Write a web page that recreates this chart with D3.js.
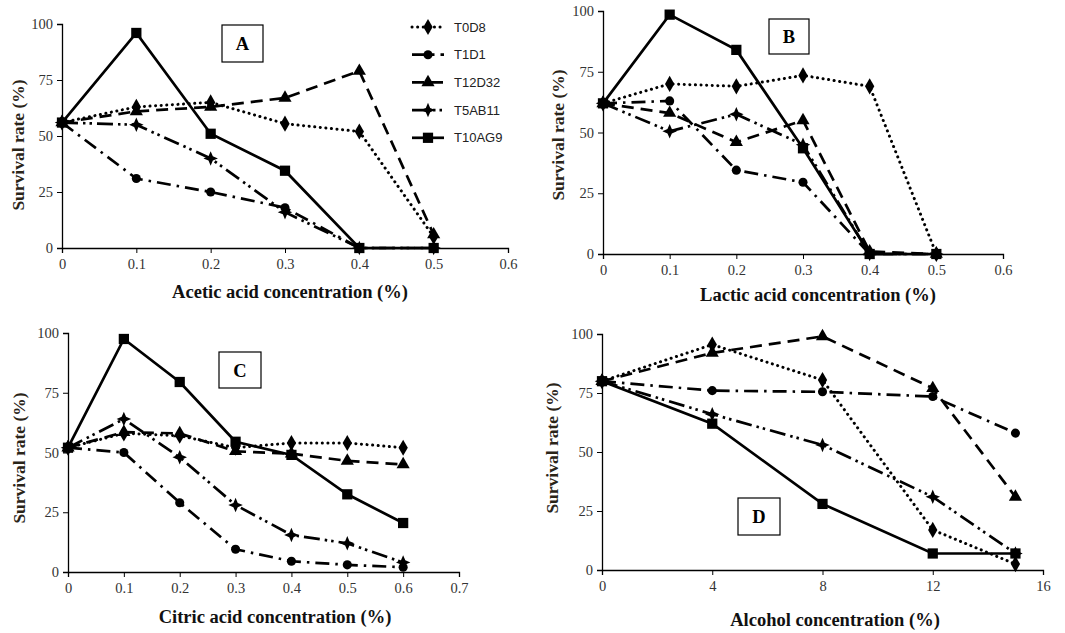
<!DOCTYPE html>
<html><head><meta charset="utf-8">
<script src="https://cdn.jsdelivr.net/npm/d3@7"></script>
<style>
body{margin:0;background:#fff;}
svg{display:block;}
</style></head>
<body>
<svg id="chart" width="1065" height="633"></svg>
<script>
// ---------- DATA ----------
const seriesNames = ["T0D8", "T1D1", "T12D32", "T5AB11", "T10AG9"];
const yTicks = [0, 25, 50, 75, 100];

const aceticX = [0, 0.1, 0.2, 0.3, 0.4, 0.5];
const aceticTicks = [0, 0.1, 0.2, 0.3, 0.4, 0.5, 0.6];
const aceticT0D8   = [56, 63, 65, 55.5, 52, 5];
const aceticT1D1   = [56, 31, 25, 18, 0, 0];
const aceticT12D32 = [56, 61, 63, 67, 79, 6];
const aceticT5AB11 = [56, 55, 40, 16, 0, 0];
const aceticT10AG9 = [56, 96, 51, 34.5, 0, 0];

const lacticX = [0, 0.1, 0.2, 0.3, 0.4, 0.5];
const lacticTicks = [0, 0.1, 0.2, 0.3, 0.4, 0.5, 0.6];
const lacticT0D8   = [62, 70, 69, 73.5, 69, 0];
const lacticT1D1   = [62, 63, 34.5, 29.5, 0, 0];
const lacticT12D32 = [62, 58, 46, 55, 1, 0];
const lacticT5AB11 = [62, 50.5, 57.5, 45, 0, 0];
const lacticT10AG9 = [62, 98.5, 84, 43.5, 0, 0];

const citricX = [0, 0.1, 0.2, 0.3, 0.4, 0.5, 0.6];
const citricTicks = [0, 0.1, 0.2, 0.3, 0.4, 0.5, 0.6, 0.7];
const citricT0D8   = [52, 58, 57, 52, 54, 54, 52];
const citricT1D1   = [52, 50, 29, 9.5, 4.5, 3, 2];
const citricT12D32 = [52, 58.5, 58, 50.5, 49.5, 46.5, 45];
const citricT5AB11 = [52, 64, 48, 28, 15.5, 12, 4];
const citricT10AG9 = [52, 97.5, 79.5, 54.5, 49, 32.5, 20.5];

const alcoholX = [0, 4, 8, 12, 15];
const alcoholTicks = [0, 4, 8, 12, 16];
const alcoholT0D8   = [80, 95.5, 80.5, 17, 2.5];
const alcoholT1D1   = [80, 76, 75.5, 73.5, 58];
const alcoholT12D32 = [80, 92, 99, 77, 31];
const alcoholT5AB11 = [80, 66, 53, 31, 7];
const alcoholT10AG9 = [80, 62, 28, 7, 7];

// ---------- STYLES ----------
const dashes = {
  T0D8: "0.1,5.5",
  T1D1: "14,6,2.5,6",
  T12D32: "12,7",
  T5AB11: "16,5,2.5,4,2.5,5",
  T10AG9: null
};
const caps = { T0D8: "round", T1D1: "butt", T12D32: "butt", T5AB11: "butt", T10AG9: "butt" };
const star4 = {
  draw(ctx, size) {
    const r = Math.sqrt(size) * 0.9, q = r * 0.3;
    ctx.moveTo(0, -r); ctx.lineTo(q, -q); ctx.lineTo(r, 0); ctx.lineTo(q, q);
    ctx.lineTo(0, r); ctx.lineTo(-q, q); ctx.lineTo(-r, 0); ctx.lineTo(-q, -q); ctx.closePath();
  }
};
const markers = {
  T0D8: d3.symbol(d3.symbolDiamond, 75),
  T1D1: d3.symbol(d3.symbolCircle, 65),
  T12D32: d3.symbol(d3.symbolTriangle, 75),
  T5AB11: d3.symbol(star4, 65),
  T10AG9: d3.symbol(d3.symbolSquare, 105)
};

const svg = d3.select("#chart");
const serif = "'Liberation Serif','Times New Roman',serif";

function panel(cfg) {
  const x = d3.scaleLinear().domain([cfg.xTicks[0], cfg.xTicks[cfg.xTicks.length - 1]]).range([cfg.left, cfg.right]);
  const y = d3.scaleLinear().domain([0, 100]).range([cfg.bottom, cfg.top]);
  const g = svg.append("g");

  const xa = g.append("g").attr("transform", `translate(0,${cfg.bottom})`)
    .call(d3.axisBottom(x).tickValues(cfg.xTicks).tickSizeOuter(0).tickSize(5).tickPadding(6).tickFormat(d => String(+d.toFixed(2))));
  const ya = g.append("g").attr("transform", `translate(${cfg.left},0)`)
    .call(d3.axisLeft(y).tickValues(yTicks).tickSizeOuter(0).tickSize(5).tickPadding(4));
  [xa, ya].forEach(a => {
    a.selectAll("path.domain").attr("stroke", "#000").attr("stroke-width", 1.3);
    a.selectAll(".tick line").attr("stroke", "#000").attr("stroke-width", 1);
    a.selectAll(".tick text").attr("font-family", serif).attr("font-size", 14.5).attr("fill", "#333");
  });

  seriesNames.forEach((name, i) => {
    const vals = cfg.values[i];
    const pts = cfg.xs.map((xv, j) => [x(xv), y(vals[j])]);
    g.append("path").attr("d", d3.line()(pts))
      .attr("fill", "none").attr("stroke", "#000").attr("stroke-width", name === "T0D8" ? 3 : 2.7)
      .attr("stroke-dasharray", dashes[name]).attr("stroke-linecap", caps[name]);
    g.selectAll(null).data(pts).enter().append("path")
      .attr("d", markers[name]).attr("fill", "#000")
      .attr("transform", p => `translate(${p[0]},${p[1]})`);
  });

  // title box
  g.append("rect").attr("x", cfg.box[0]).attr("y", cfg.box[1]).attr("width", cfg.box[2]).attr("height", cfg.box[3])
    .attr("fill", "#fff").attr("stroke", "#000").attr("stroke-width", 1.2);
  g.append("text").attr("x", cfg.box[0] + cfg.box[2] / 2).attr("y", cfg.box[1] + cfg.box[3] / 2 + 6.5)
    .attr("text-anchor", "middle").attr("font-family", serif).attr("font-weight", "bold").attr("font-size", 18.5)
    .text(cfg.label);

  // axis titles
  g.append("text").attr("x", cfg.xTitlePos[0]).attr("y", cfg.xTitlePos[1]).attr("text-anchor", "middle")
    .attr("font-family", serif).attr("font-weight", "bold").attr("font-size", 18.5).attr("fill", "#111")
    .text(cfg.xTitle);
  g.append("text").attr("transform", `translate(${cfg.yTitlePos[0]},${cfg.yTitlePos[1]}) rotate(-90)`)
    .attr("text-anchor", "middle")
    .attr("font-family", serif).attr("font-weight", "bold").attr("font-size", 17.5).attr("fill", "#2a2418")
    .text("Survival rate (%)");
}

panel({
  label: "A", xs: aceticX, xTicks: aceticTicks,
  values: [aceticT0D8, aceticT1D1, aceticT12D32, aceticT5AB11, aceticT10AG9],
  left: 62, right: 508, top: 24, bottom: 248,
  box: [222, 25, 41, 37], xTitle: "Acetic acid concentration (%)", xTitlePos: [290, 298], yTitlePos: [24, 145]
});
panel({
  label: "B", xs: lacticX, xTicks: lacticTicks,
  values: [lacticT0D8, lacticT1D1, lacticT12D32, lacticT5AB11, lacticT10AG9],
  left: 603, right: 1003, top: 11, bottom: 254,
  box: [769, 19, 40, 35], xTitle: "Lactic acid concentration (%)", xTitlePos: [818, 301], yTitlePos: [564, 135]
});
panel({
  label: "C", xs: citricX, xTicks: citricTicks,
  values: [citricT0D8, citricT1D1, citricT12D32, citricT5AB11, citricT10AG9],
  left: 68, right: 459, top: 333, bottom: 572,
  box: [219, 352, 42, 36], xTitle: "Citric acid concentration (%)", xTitlePos: [275, 623], yTitlePos: [25, 458]
});
panel({
  label: "D", xs: alcoholX, xTicks: alcoholTicks,
  values: [alcoholT0D8, alcoholT1D1, alcoholT12D32, alcoholT5AB11, alcoholT10AG9],
  left: 602, right: 1043, top: 334, bottom: 570,
  box: [738, 498, 42, 37], xTitle: "Alcohol  concentration (%)", xTitlePos: [835, 626], yTitlePos: [558, 448]
});

// legend
const lg = svg.append("g");
seriesNames.forEach((name, i) => {
  const yy = 27 + i * 27.7;
  lg.append("line").attr("x1", 412).attr("x2", 444).attr("y1", yy).attr("y2", yy)
    .attr("stroke", "#000").attr("stroke-width", name === "T0D8" ? 3 : 2.7)
    .attr("stroke-dasharray", dashes[name]).attr("stroke-linecap", caps[name]);
  lg.append("path").attr("d", markers[name]).attr("fill", "#000").attr("transform", `translate(428,${yy})`);
  lg.append("text").attr("x", 454).attr("y", yy + 4.5).attr("font-family", "'Liberation Sans',Arial,sans-serif")
    .attr("font-size", 13).attr("fill", "#222").text(name);
});
</script>
</body></html>
